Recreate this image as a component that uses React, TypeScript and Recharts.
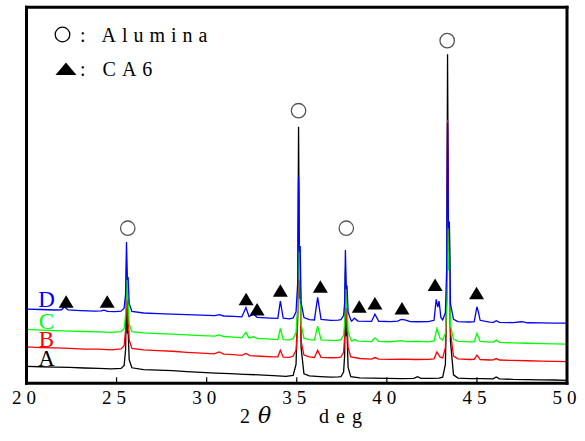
import React from 'react';
import { ComposedChart, Line, Scatter, XAxis, YAxis } from 'recharts';

// 2θ (deg) axis
const xTicks = [20, 25, 30, 35, 40, 45, 50];
const yTicks = [100, 200, 300];

// XRD patterns, [2θ, intensity (a.u., offset)]
const seriesA: [number, number][] = [
  [20, 18.1], [20.8, 17.6], [21.6, 17.3], [22.4, 16.9], [23.2, 16.3], [24.0, 15.9], [24.7, 15.4],
  [25.25, 15.8], [25.42, 19], [25.5, 36], [25.55, 99], [25.6, 53], [25.64, 56], [25.7, 25], [25.85, 16.5],
  [26.5, 14.6], [27.3, 14.0], [28.1, 13.4], [28.9, 12.5], [29.7, 11.7], [30.5, 10.9], [31.3, 10.3], [32.1, 9.6],
  [32.9, 9.0], [33.7, 8.1], [34.4, 7.4],
  [34.8, 8.5], [34.96, 20], [35.05, 75], [35.1, 273], [35.15, 125], [35.19, 135], [35.24, 38], [35.4, 10], [35.7, 7.8],
  [36.3, 7.1], [36.9, 6.6], [37.3, 6.8],
  [37.45, 7], [37.6, 12], [37.66, 30], [37.7, 104], [37.75, 50], [37.79, 54], [37.85, 17], [38.0, 7],
  [38.5, 5.7], [39.2, 5.4], [40.0, 5.3], [40.8, 5.0], [41.5, 5.2], [41.7, 7.0], [41.9, 5.3], [42.5, 5.2], [42.9, 5.6],
  [43.1, 6.5], [43.25, 20], [43.32, 90], [43.37, 350], [43.42, 160], [43.47, 170], [43.53, 45], [43.7, 9], [43.95, 5.6],
  [44.6, 5.0], [45.3, 4.9], [45.9, 4.8], [46.07, 6.8], [46.25, 4.8], [47.0, 4.2], [47.8, 4.0], [48.6, 3.7], [49.3, 3.5], [50, 3.2],
];

const seriesB: [number, number][] = [
  [20, 38.7], [20.8, 38.0], [21.6, 37.6], [22.4, 37.2], [23.2, 36.4], [24.0, 36.3], [24.7, 35.6],
  [25.25, 36.6], [25.42, 40], [25.5, 57], [25.55, 120.5], [25.6, 74], [25.64, 77], [25.7, 46], [25.85, 37],
  [26.5, 35.6], [27.3, 34.8], [28.1, 34.1], [28.9, 33.0], [29.7, 32.2], [30.4, 31.3], [30.7, 33.4], [30.95, 31.0],
  [31.5, 30.6], [31.95, 29.8], [32.18, 31.8], [32.4, 29.4], [33.0, 28.8], [33.7, 28.1], [33.95, 28.2], [34.09, 35.2],
  [34.25, 27.8], [34.6, 27.6],
  [34.8, 29], [34.96, 35], [35.05, 63], [35.1, 168.5], [35.15, 90], [35.19, 96], [35.24, 45], [35.4, 30], [35.7, 28],
  [35.98, 27.5], [36.16, 35.2], [36.35, 27.6], [36.9, 27.2], [37.3, 27.4],
  [37.45, 28], [37.6, 33], [37.66, 50], [37.7, 118], [37.75, 68], [37.79, 72], [37.85, 38], [38.0, 28],
  [38.5, 26.4], [39.15, 25.8], [39.34, 27.4], [39.55, 25.8], [40.2, 25.4], [40.9, 25.8], [41.6, 25.3], [42.3, 25.5],
  [42.62, 26], [42.78, 33.4], [42.95, 28],
  [43.1, 27], [43.25, 38], [43.32, 90], [43.37, 280.5], [43.42, 140], [43.47, 150], [43.53, 55], [43.7, 29], [43.95, 26],
  [44.6, 25.3], [44.85, 25.4], [45.0, 29.9], [45.18, 25.3], [45.7, 24.8], [45.92, 24.9], [46.07, 26.3], [46.25, 24.8],
  [47.0, 24.3], [47.8, 24.0], [48.6, 23.6], [49.3, 23.4], [50, 23.1],
];

const seriesC: [number, number][] = [
  [20, 57.3], [20.8, 56.6], [21.6, 56.1], [22.4, 55.6], [23.2, 55.1], [24.0, 54.7], [24.7, 54.2],
  [25.25, 55], [25.42, 58], [25.5, 73], [25.55, 129], [25.6, 88], [25.64, 91], [25.7, 63], [25.85, 55],
  [26.5, 53.6], [27.3, 52.9], [28.1, 52.3], [28.9, 51.6], [29.7, 50.8], [30.45, 50.1], [30.7, 51.5], [30.95, 49.8],
  [31.5, 49.2], [31.95, 48.4], [32.18, 54.4], [32.35, 48.2], [32.59, 49.5], [32.8, 47.8], [33.5, 47.0], [33.95, 46.4],
  [34.09, 58.3], [34.25, 46.4], [34.6, 46.1],
  [34.8, 47.5], [34.96, 54], [35.05, 82], [35.1, 190], [35.15, 110], [35.19, 116], [35.24, 63], [35.4, 48], [35.7, 46.4],
  [35.98, 46.0], [36.16, 60.8], [36.35, 46.2], [36.9, 45.6], [37.3, 45.8],
  [37.45, 46.5], [37.6, 51], [37.66, 65], [37.7, 122.7], [37.75, 80], [37.79, 84], [37.85, 55], [38.0, 46.5],
  [38.05, 44.9], [38.2, 46.5], [38.4, 44.8], [39.15, 44.4], [39.34, 48.3], [39.55, 44.5], [40.2, 44.2], [40.8, 45.3],
  [41.1, 44.3], [41.7, 44.6], [42.3, 44.1], [42.62, 45], [42.78, 58.3], [42.95, 48],
  [43.1, 46], [43.25, 53], [43.32, 85], [43.37, 205.9], [43.42, 120], [43.47, 127], [43.53, 62], [43.7, 47], [43.95, 44.6],
  [44.6, 44.1], [44.85, 44.2], [45.0, 53], [45.18, 44.6], [45.7, 43.8], [45.92, 43.8], [46.07, 45.9], [46.25, 43.6],
  [47.0, 43.0], [47.8, 42.6], [48.6, 42.2], [49.3, 41.9], [50, 41.6],
];

const seriesD: [number, number][] = [
  [20, 78.9], [20.8, 78.5], [21.6, 78.0], [21.95, 78.2], [22.1, 81.4], [22.3, 78.0], [23.0, 77.4], [23.8, 76.8],
  [24.15, 77.0], [24.3, 77.9], [24.5, 76.5], [24.9, 76.2],
  [25.25, 76.8], [25.42, 80], [25.5, 95], [25.55, 150.4], [25.6, 110], [25.64, 113], [25.7, 85], [25.85, 76.5],
  [26.5, 74.8], [27.3, 74.2], [28.1, 73.6], [28.9, 73.0], [29.7, 72.5], [30.45, 72.0], [30.7, 73.0], [30.95, 71.6],
  [31.5, 71.1], [31.95, 70.6], [32.18, 80.7], [32.35, 71.0], [32.59, 73.6], [32.8, 70.2], [33.5, 69.4], [33.95, 69.0],
  [34.09, 87.5], [34.25, 69.2], [34.6, 68.6],
  [34.8, 69.5], [34.96, 76], [35.05, 106], [35.1, 219.7], [35.15, 140], [35.19, 146], [35.24, 86], [35.4, 70], [35.7, 67.8],
  [35.98, 67.4], [36.16, 91.4], [36.35, 68], [36.9, 67.0], [37.3, 67.2],
  [37.45, 67.8], [37.6, 72], [37.66, 86], [37.7, 141.9], [37.75, 100], [37.79, 104], [37.85, 76], [38.0, 67.5],
  [38.05, 66.0], [38.2, 69.3], [38.4, 66.2], [39.15, 65.8], [39.34, 73.6], [39.55, 66.0], [40.2, 65.6], [40.6, 66.2],
  [40.8, 67.9], [41.0, 67.5], [41.3, 65.6], [41.7, 65.5], [42.3, 65.7], [42.62, 67], [42.74, 89.3], [42.83, 81],
  [42.9, 87.5], [43.0, 70],
  [43.1, 67.5], [43.25, 75], [43.32, 120], [43.37, 277.3], [43.42, 165], [43.47, 172], [43.53, 85], [43.7, 68], [43.95, 65.6],
  [44.6, 65.2], [44.85, 65.6], [45.0, 81.4], [45.08, 76], [45.18, 67], [45.7, 65.0], [45.92, 64.9], [46.07, 66.5],
  [46.25, 64.8], [47.0, 64.6], [47.5, 65.5], [47.8, 64.4], [48.6, 64.3], [49.3, 64.1], [50, 64],
];

const seriesNames = ['A', 'B', 'C', 'D'];
const seriesColors = ['#000000', '#ff0000', '#00ff00', '#0000ff'];
const seriesList = [seriesA, seriesB, seriesC, seriesD];
const labelDy = [0, 0, 0, -2];

// Phase markers [2θ, intensity]
const aluminaMarks: [number, number][] = [
  [25.62, 165], [35.1, 290], [37.75, 165], [43.35, 364.5],
];
const ca6Marks: [number, number][] = [
  [22.2, 86.7], [24.48, 86.7], [32.19, 89.3], [32.8, 78.6], [34.09, 98.5], [36.31, 102.7],
  [38.47, 81.4], [39.34, 85], [40.84, 79.7], [42.68, 104.5], [44.98, 95.7],
];

const toPoints = (s: [number, number][]) => s.map(([x, y]) => ({ x, y }));

const SERIF = '"Liberation Serif", "Times New Roman", serif';

const XTick = (props: any) => {
  const { x, y, payload } = props;
  return (
    <text x={x} y={y + 7} textAnchor="middle" fontFamily={SERIF} fontSize={19}
      style={{ letterSpacing: '5px' }} fill="#000">
      {payload.value}
    </text>
  );
};

const CircleMark = (props: any) => {
  const { cx, cy } = props;
  return <circle cx={cx} cy={cy} r={7.2} fill="#fff" stroke="#555" strokeWidth={1.3} />;
};

const TriangleMark = (props: any) => {
  const { cx, cy } = props;
  return (
    <polygon
      points={`${cx},${cy - 6.5} ${cx - 7.5},${cy + 6} ${cx + 7.5},${cy + 6}`}
      fill="#000"
    />
  );
};

const makeLabel = (text: string, color: string, dy: number) => (props: any) => {
  if (props.index !== 0) return null;
  const x = props.x ?? props.viewBox?.x;
  const y = props.y ?? props.viewBox?.y;
  if (x == null || y == null) return null;
  return (
    <text key={text} x={x + 20} y={y + dy} textAnchor="middle" fontFamily={SERIF} fontSize={23} fill={color}>
      {text}
    </text>
  );
};

const axisLineStyle = { stroke: '#000', strokeWidth: 3, strokeLinecap: 'square' as const };
const tickLineStyle = { stroke: '#000', strokeWidth: 1.2 };

export default function App() {
  return (
    <div style={{ position: 'absolute', left: 0, top: 0, width: 585, height: 441, background: '#fff' }}>
      <ComposedChart
        width={585}
        height={441}
        margin={{ top: 5.3, right: 16, bottom: 27.7, left: 24.5 }}
      >
        <XAxis
          type="number"
          dataKey="x"
          domain={[20, 50]}
          ticks={xTicks}
          interval={0}
          allowDataOverflow
          height={30}
          tickSize={-6}
          tickMargin={20}
          axisLine={axisLineStyle}
          tickLine={tickLineStyle}
          tick={<XTick />}
        />
        <XAxis
          xAxisId="top"
          orientation="top"
          type="number"
          dataKey="x"
          domain={[20, 50]}
          ticks={xTicks}
          interval={0}
          allowDataOverflow
          height={2}
          tickSize={-5}
          axisLine={axisLineStyle}
          tickLine={tickLineStyle}
          tick={false}
        />
        <YAxis
          type="number"
          dataKey="y"
          domain={[0, 400]}
          ticks={yTicks}
          interval={0}
          allowDataOverflow
          width={2}
          tickSize={-8}
          axisLine={axisLineStyle}
          tickLine={tickLineStyle}
          tick={false}
        />
        <YAxis
          yAxisId="right"
          orientation="right"
          type="number"
          dataKey="y"
          domain={[0, 400]}
          ticks={yTicks}
          interval={0}
          allowDataOverflow
          width={2}
          tickSize={-8}
          axisLine={axisLineStyle}
          tickLine={tickLineStyle}
          tick={false}
        />
        {seriesList.map((s, i) => (
          <Line
            key={seriesNames[i]}
            data={toPoints(s)}
            dataKey="y"
            type="linear"
            stroke={seriesColors[i]}
            strokeWidth={1.3}
            dot={false}
            activeDot={false}
            isAnimationActive={false}
            label={makeLabel(seriesNames[i], seriesColors[i], labelDy[i])}
          />
        ))}
        <Scatter data={toPoints(aluminaMarks)} dataKey="y" shape={<CircleMark />} isAnimationActive={false} />
        <Scatter data={toPoints(ca6Marks)} dataKey="y" shape={<TriangleMark />} isAnimationActive={false} />
      </ComposedChart>
      <svg width={585} height={441} style={{ position: 'absolute', left: 0, top: 0, pointerEvents: 'none' }}>
        <circle cx={62.5} cy={34.5} r={7.3} fill="none" stroke="#000" strokeWidth={1.3} />
        <text x={80} y={42} fontFamily={SERIF} fontSize={20} style={{ letterSpacing: '6px' }} fill="#000">
          {': Alumina'}
        </text>
        <polygon points="66,62.5 55.5,75 76.5,75" fill="#000" />
        <text x={80} y={76} fontFamily={SERIF} fontSize={20} style={{ letterSpacing: '6px' }} fill="#000">
          {': CA6'}
        </text>
        <text x={240} y={423.3} fontFamily={SERIF} fontSize={20} fill="#000">2</text>
        <text x={258} y={423.3} fontFamily='"DejaVu Serif", serif' fontStyle="italic" fontSize={22} fill="#000">θ</text>
        <text x={319} y={423.3} fontFamily={SERIF} fontSize={20} style={{ letterSpacing: '7px' }} fill="#000">deg</text>
      </svg>
    </div>
  );
}
